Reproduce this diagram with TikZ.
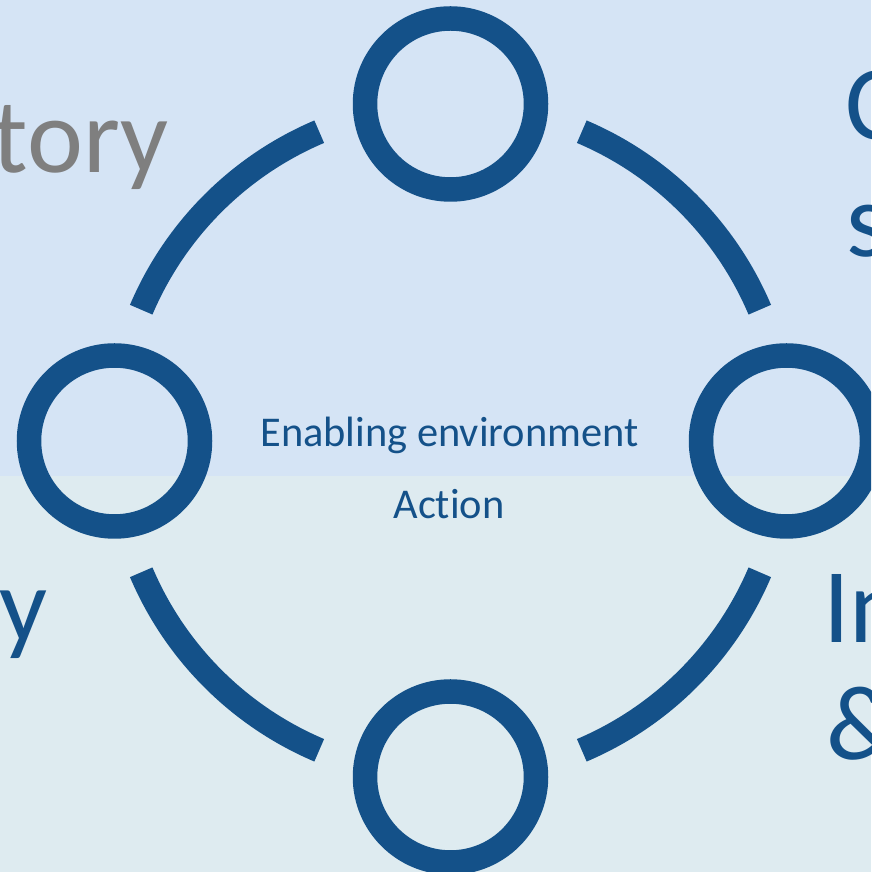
\documentclass[tikz,border=0pt]{standalone}
\usepackage{fontspec}
\setmainfont{Carlito}[Ligatures={NoCommon}]
\definecolor{topbg}{RGB}{213,228,245}
\definecolor{botbg}{RGB}{222,235,240}
\definecolor{ringblue}{RGB}{20,81,137}
\definecolor{txtgray}{RGB}{127,127,127}
\begin{document}
\begin{tikzpicture}[x=1pt,y=1pt,
  hub/.style={circle, draw=ringblue, line width=24.5pt, minimum size=171pt, inner sep=0pt},
  ringarc/.style={draw=ringblue, line width=24.5pt, line cap=butt},
  bigtxt/.style={inner sep=0pt, font=\fontsize{106}{117}\selectfont},
  midtxt/.style={inner sep=0pt, text=ringblue, font=\fontsize{42.4}{50}\selectfont}]
\useasboundingbox (0,0) rectangle (871,872);
\begin{scope}
\clip (0,0) rectangle (871,872);
\fill[topbg] (0,396) rectangle (871,872);
\fill[botbg] (0,0) rectangle (871,396);
% outer cut-off labels
\node[bigtxt, text=txtgray, anchor=base east] (tl) at (169,699) {tory};
\node[bigtxt, text=ringblue, anchor=base east] (bl) at (48,230) {y};
\node[bigtxt, text=ringblue, anchor=base west] (tr1) at (845,732) {C};
\node[bigtxt, text=ringblue, anchor=base west] (tr2) at (846,615) {s};
\node[bigtxt, text=ringblue, anchor=base west] (br1) at (823,229) {In};
\node[bigtxt, text=ringblue, anchor=base west] (br2) at (826,112) {\&};
% ring
\coordinate (ctr) at (450.5,431);
\foreach \a in {45,135,225,315}{
  \draw[ringarc] ([shift={(\a-22:336)}]ctr) arc[start angle=\a-22, end angle=\a+22, radius=336];
}
\node[hub] (top) at (450.5,768) {};
\node[hub] (bot) at (450.5,95) {};
\node[hub] (lft) at (114.5,431) {};
\node[hub] (rgt) at (786.5,431) {};
% centre text
\node[midtxt, anchor=base] (env) at (449.5,425) {Enabling environment};
\node[midtxt, anchor=base] (act) at (449,353) {Action};
\end{scope}
\end{tikzpicture}
\end{document}
